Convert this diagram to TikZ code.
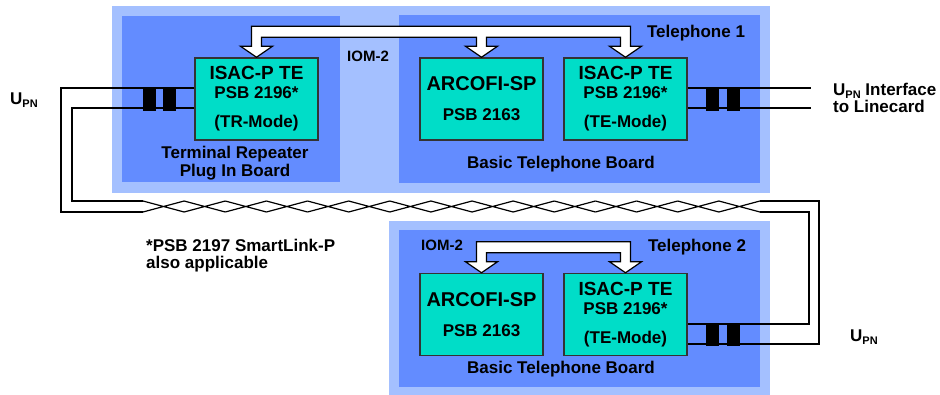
\documentclass[tikz,border=0pt]{standalone}
\usepackage{fontspec}
\setmainfont{Liberation Sans}
\usetikzlibrary{calc}
\definecolor{boardout}{HTML}{A4C0FF}
\definecolor{boardin}{HTML}{638CFF}
\definecolor{chipfill}{HTML}{00DDC8}
\newcommand{\upn}{U\raisebox{-3pt}{\fontsize{11}{11}\selectfont PN}}
\begin{document}
\begin{tikzpicture}[
			x=1pt, y=-1pt,
			chip/.style={rectangle,draw=black!80,line width=1.5pt,fill=chipfill,minimum width=123pt,minimum height=82pt,inner sep=0pt,align=center,font=\fontsize{17}{19}\selectfont\bfseries},
			lbl/.style={align=center,inner sep=0pt,font=\fontsize{17}{18}\selectfont\bfseries},
			wire/.style={line width=1.2pt},
			xfmr/.style={rectangle,fill=black,minimum width=13pt,minimum height=23pt,inner sep=0pt},
			bus/.style={draw=black,fill=white,line width=1.2pt,line join=miter}
		]
		\useasboundingbox (0,0) rectangle (940,394);
		% boards
		\fill[boardout] (112,6) rectangle (770,193);
		\fill[boardin] (122,16) rectangle (340,182);
		\fill[boardin] (399,15) rectangle (760,183);
		\fill[boardout] (389,221) rectangle (770,400);
		\fill[boardin] (399,230) rectangle (760,387);

		\node[chip] (tr) at (256.5,99) {{\fontsize{19}{19}\selectfont ISAC-P TE}\\PSB 2196*\\[10pt](TR-Mode)};
		\node[chip] (ar1) at (481.5,99) {{\fontsize{20}{20}\selectfont ARCOFI-SP}\\[11pt]PSB 2163};
		\node[chip] (te1) at (625.5,99) {{\fontsize{19}{19}\selectfont ISAC-P TE}\\PSB 2196*\\[10pt](TE-Mode)};
		\node[chip] (ar2) at (481.5,314.5) {{\fontsize{20}{20}\selectfont ARCOFI-SP}\\[11pt]PSB 2163};
		\node[chip] (te2) at (625.5,314.5) {{\fontsize{19}{19}\selectfont ISAC-P TE}\\PSB 2196*\\[10pt](TE-Mode)};

		% twisted pair
		\coordinate (twL) at (143,206.5);
		\coordinate (twR) at (760,206.5);
		\coordinate (lcA) at (811,88);
		\coordinate (lcB) at (811,108);
		\draw[wire] ($(tr.west)+(0,-11)$) -| (61,212) -- ($(twL)+(0,5.5)$);
		\draw[wire] ($(tr.west)+(0,9)$) -| (72,201) -- ($(twL)+(0,-5.5)$);
		\foreach \j in {0,...,14}
			\draw[wire] ($(twL)+(41.13*\j,-5.5)$) -- ($(twL)+(41.13*\j+41.13,5.5)$)
				($(twL)+(41.13*\j,5.5)$) -- ($(twL)+(41.13*\j+41.13,-5.5)$);
		\draw[wire] ($(twR)+(0,-5.5)$) -- (819,201) |- ($(te2.east)+(0,29.5)$);
		\draw[wire] ($(twR)+(0,5.5)$) -- (809,212) |- ($(te2.east)+(0,9.5)$);
		\draw[wire] ($(te1.east)+(0,-11)$) -- (lcA);
		\draw[wire] ($(te1.east)+(0,9)$) -- (lcB);

		% transformers
		\node[xfmr] (xl1) at (149.5,99.5) {};
		\node[xfmr] (xl2) at (169.5,99.5) {};
		\node[xfmr] (xr1) at (712,99.5) {};
		\node[xfmr] (xr2) at (733,99.5) {};
		\node[xfmr] (xb1) at (712,334.5) {};
		\node[xfmr] (xb2) at (733,334.5) {};

		% IOM-2 busses
		\draw[bus] (tr.north) -- ++(-16,-11) -- ++(11,0) |- ($(te1.north)+(5,-31)$) -- ++(0,20) -- ++(11,0)
			-- (te1.north) -- ++(-16,-11) -- ++(11,0) -- ++(0,-9) -| ($(ar1.north)+(5,-11)$) -- ++(11,0)
			-- (ar1.north) -- ++(-16,-11) -- ++(11,0) -- ++(0,-9) -| ($(tr.north)+(5,-11)$) -- ++(11,0) -- cycle;
		\draw[bus] (ar2.north) -- ++(-16,-11) -- ++(11,0) |- ($(te2.north)+(5,-31)$) -- ++(0,20) -- ++(11,0)
			-- (te2.north) -- ++(-16,-11) -- ++(11,0) -- ++(0,-9) -| ($(ar2.north)+(5,-11)$) -- ++(11,0) -- cycle;

		% labels
		\node[lbl] (tel1) at (696,33) {Telephone 1};
		\node[lbl] (tel2) at (697,247) {Telephone 2};
		\node[lbl,font=\fontsize{15}{15}\selectfont\bfseries] (iom1) at (368,56) {IOM-2};
		\node[lbl,font=\fontsize{15}{15}\selectfont\bfseries] (iom2) at (442,245) {IOM-2};
		\node[lbl] (trb) at (235,163) {Terminal Repeater\\Plug In Board};
		\node[lbl] (btb1) at (561,164) {Basic Telephone Board};
		\node[lbl] (btb2) at (561,369) {Basic Telephone Board};
		\node[lbl,anchor=west,align=left,font=\fontsize{17}{17}\selectfont\bfseries] (note) at (146,255.5) {*PSB 2197 SmartLink-P\\also applicable};
		\node[lbl] (upnL) at (24,100) {\upn};
		\node[lbl,anchor=west,align=left,font=\fontsize{17}{17}\selectfont\bfseries] (upnR) at (833,97.5) {\upn{} Interface\\to Linecard};
		\node[lbl,anchor=west] (upnB) at (850,337) {\upn};
	\end{tikzpicture}
\end{document}
